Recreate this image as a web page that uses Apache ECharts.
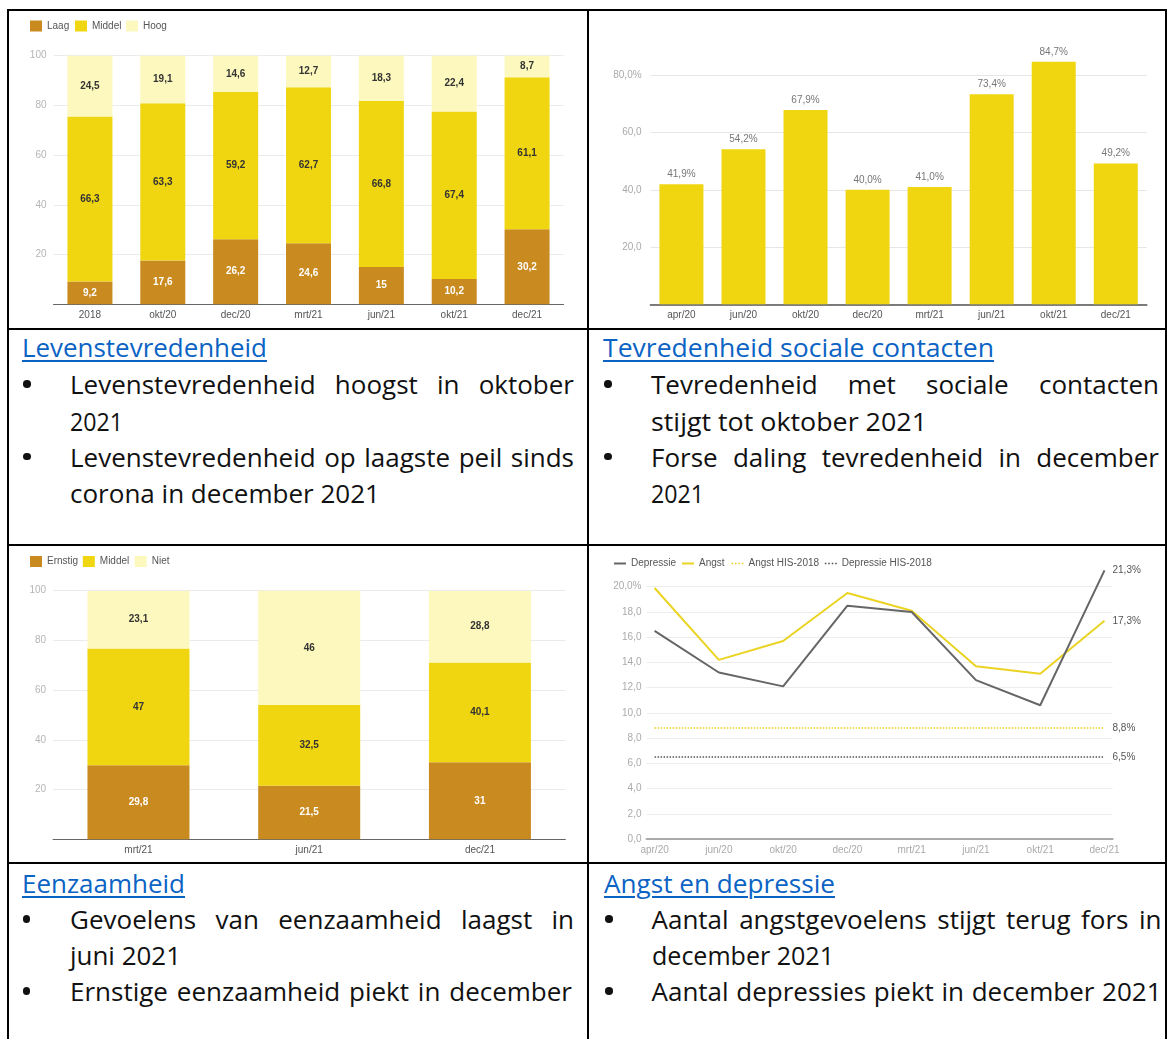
<!DOCTYPE html>
<html><head><meta charset="utf-8">
<script src="https://cdn.jsdelivr.net/npm/echarts@6/dist/echarts.min.js"></script>
<style>
html,body{margin:0;padding:0;background:#fff;}
body{width:1168px;height:1039px;position:relative;overflow:hidden;}
.ch{position:absolute;}
.ln{position:absolute;background:#000;}
.tx{position:absolute;white-space:nowrap;font-family:"Open Sans",sans-serif;font-size:26px;line-height:26px;color:#111;transform-origin:0 0;}
.hd{color:#0B63C4;text-decoration:underline;text-decoration-thickness:1.5px;text-underline-offset:3px;}
.bl{position:absolute;width:7.5px;height:7.5px;border-radius:50%;background:#111;}
</style></head><body>

<div class="ln" style="left:7px;top:9px;width:1160px;height:2px"></div>
<div class="ln" style="left:7px;top:328px;width:1160px;height:2px"></div>
<div class="ln" style="left:7px;top:544px;width:1160px;height:2px"></div>
<div class="ln" style="left:7px;top:862px;width:1160px;height:2px"></div>
<div class="ln" style="left:7px;top:9px;width:2px;height:1030px"></div>
<div class="ln" style="left:587px;top:9px;width:2px;height:1030px"></div>
<div class="ln" style="left:1165px;top:9px;width:2px;height:1030px"></div>

<div id="c1" class="ch" style="left:9px;top:11px;width:578px;height:317px"></div>
<div id="c2" class="ch" style="left:589px;top:11px;width:576px;height:317px"></div>
<div id="c3" class="ch" style="left:9px;top:546px;width:578px;height:316px"></div>
<div id="c4" class="ch" style="left:589px;top:546px;width:576px;height:316px"></div>

<div id="texts"></div>

<script>
// ---------- data ----------
const lifeCats   = ['2018','okt/20','dec/20','mrt/21','jun/21','okt/21','dec/21'];
const lifeLaag   = [9.2, 17.6, 26.2, 24.6, 15, 10.2, 30.2];
const lifeMiddel = [66.3, 63.3, 59.2, 62.7, 66.8, 67.4, 61.1];
const lifeHoog   = [24.5, 19.1, 14.6, 12.7, 18.3, 22.4, 8.7];
const lifeTicks  = ['', '20', '40', '60', '80', '100'];

const socialCats  = ['apr/20','jun/20','okt/20','dec/20','mrt/21','jun/21','okt/21','dec/21'];
const socialVals  = [41.9, 54.2, 67.9, 40.0, 41.0, 73.4, 84.7, 49.2];
const socialTicks = ['', '20,0', '40,0', '60,0', '80,0%', ''];

const lonelyCats    = ['mrt/21','jun/21','dec/21'];
const lonelyErnstig = [29.8, 21.5, 31];
const lonelyMiddel  = [47, 32.5, 40.1];
const lonelyNiet    = [23.1, 46, 28.8];
const lonelyTicks   = ['', '20', '40', '60', '80', '100'];

const mentalCats   = ['apr/20','jun/20','okt/20','dec/20','mrt/21','jun/21','okt/21','dec/21'];
const depressie    = [16.5, 13.2, 12.1, 18.5, 18.0, 12.6, 10.6, 21.3];
const angst        = [19.9, 14.2, 15.7, 19.5, 18.1, 13.7, 13.1, 17.3];
const angstHIS     = [8.8, 8.8, 8.8, 8.8, 8.8, 8.8, 8.8, 8.8];
const depressieHIS = [6.5, 6.5, 6.5, 6.5, 6.5, 6.5, 6.5, 6.5];
const mentalTicks  = ['0,0','2,0','4,0','6,0','8,0','10,0','12,0','14,0','16,0','18,0','20,0%',''];

// ---------- text ----------
const headings = ['Levenstevredenheid', 'Tevredenheid sociale contacten', 'Eenzaamheid', 'Angst en depressie'];
const bulletLines = [
  ['Levenstevredenheid hoogst in oktober', '2021', 'Levenstevredenheid op laagste peil sinds', 'corona in december 2021'],
  ['Tevredenheid met sociale contacten', 'stijgt tot oktober 2021', 'Forse daling tevredenheid in december', '2021'],
  ['Gevoelens van eenzaamheid laagst in', 'juni 2021', 'Ernstige eenzaamheid piekt in december'],
  ['Aantal angstgevoelens stijgt terug fors in', 'december 2021', 'Aantal depressies piekt in december 2021']
];

// ---------- styling ----------
const FONT = '"Liberation Sans", Arial, sans-serif';
const C_LOW = '#C98A20', C_MID = '#F0D611', C_HIGH = '#FDF9BE';
const ICON_SOLID = 'path://M0,0h12v2h-12z';
const ICON_DOTS  = 'path://M0,0h1.6v1.6h-1.6zM3.4,0h1.6v1.6h-1.6zM6.8,0h1.6v1.6h-1.6zM10.2,0h1.6v1.6h-1.6z';
const fmtNum = v => String(v).replace('.', ',');
const fmtPct = v => Number(v).toFixed(1).replace('.', ',') + '%';

function legendAt(name, left, top, icon) {
  const l = { data: [name], left, top, itemWidth: 12, itemHeight: 11, itemGap: 0, padding: 0,
    selectedMode: false, textStyle: { fontSize: 10, color: '#555', fontFamily: FONT } };
  if (icon) l.icon = icon;
  return l;
}
function stackBar(name, data, color, labelColor, width) {
  return { type: 'bar', name, stack: 's', data, barWidth: width, itemStyle: { color },
    label: { show: true, position: 'inside', formatter: p => fmtNum(p.value), color: labelColor,
      fontSize: 10, fontWeight: 'bold', fontFamily: FONT } };
}

// ---------- chart 1 ----------
echarts.init(document.getElementById('c1')).setOption({
  animation: false, textStyle: { fontFamily: FONT },
  legend: [legendAt('Laag', 21, 9.5, 'rect'), legendAt('Middel', 66, 9.5, 'rect'), legendAt('Hoog', 117, 9.5, 'rect')],
  grid: { left: 44.5, top: 44.7, width: 510, height: 248.6 },
  xAxis: { type: 'category', data: lifeCats, axisTick: { show: false },
    axisLine: { lineStyle: { color: '#666', width: 1.2 } },
    axisLabel: { color: '#555', fontSize: 10, margin: 6 } },
  yAxis: { type: 'value', min: 0, max: 100, interval: 20, axisLine: { show: false }, axisTick: { show: false },
    axisLabel: { color: '#b5b5b5', fontSize: 10, margin: 7, formatter: v => lifeTicks[Math.round(v / 20)] },
    splitLine: { lineStyle: { color: '#ebebeb' } } },
  series: [stackBar('Laag', lifeLaag, C_LOW, '#fff', 45),
           stackBar('Middel', lifeMiddel, C_MID, '#333', 45),
           stackBar('Hoog', lifeHoog, C_HIGH, '#333', 45)]
});

// ---------- chart 2 ----------
echarts.init(document.getElementById('c2')).setOption({
  animation: false, textStyle: { fontFamily: FONT },
  grid: { left: 61.4, top: 7.05, width: 496.4, height: 286.25 },
  xAxis: { type: 'category', data: socialCats, axisTick: { show: false },
    axisLine: { lineStyle: { color: '#555', width: 1.5 } },
    axisLabel: { color: '#555', fontSize: 10, margin: 6 } },
  yAxis: { type: 'value', min: 0, max: 100, interval: 20, axisLine: { show: false }, axisTick: { show: false },
    axisLabel: { color: '#aaa', fontSize: 10, margin: 8.8, showMaxLabel: false,
      formatter: v => socialTicks[Math.round(v / 20)] },
    splitLine: { showMaxLine: false, lineStyle: { color: '#e6e6e6' } } },
  series: [{ type: 'bar', name: 'Tevredenheid', data: socialVals, barWidth: 44, itemStyle: { color: C_MID },
    label: { show: true, position: 'top', distance: 5, formatter: p => fmtPct(p.value),
      color: '#777', fontSize: 10, fontFamily: FONT } }]
});

// ---------- chart 3 ----------
echarts.init(document.getElementById('c3')).setOption({
  animation: false, textStyle: { fontFamily: FONT },
  legend: [legendAt('Ernstig', 21, 10, 'rect'), legendAt('Middel', 73.8, 10, 'rect'), legendAt('Niet', 125.7, 10, 'rect')],
  grid: { left: 44.1, top: 44.7, width: 512.2, height: 248.6 },
  xAxis: { type: 'category', data: lonelyCats, axisTick: { show: false },
    axisLine: { lineStyle: { color: '#666', width: 1.2 } },
    axisLabel: { color: '#555', fontSize: 10, margin: 6 } },
  yAxis: { type: 'value', min: 0, max: 100, interval: 20, axisLine: { show: false }, axisTick: { show: false },
    axisLabel: { color: '#b5b5b5', fontSize: 10, margin: 7, formatter: v => lonelyTicks[Math.round(v / 20)] },
    splitLine: { lineStyle: { color: '#ebebeb' } } },
  series: [stackBar('Ernstig', lonelyErnstig, C_LOW, '#fff', 102),
           stackBar('Middel', lonelyMiddel, C_MID, '#333', 102),
           stackBar('Niet', lonelyNiet, C_HIGH, '#333', 102)]
});

// ---------- chart 4 ----------
const pts = arr => arr.map((v, i) => [i, v]);
function lineSeries(name, data, color, width, type, z) {
  return { type: 'line', name, data: pts(data), symbol: 'none', z,
    lineStyle: { color, width, type }, itemStyle: { color },
    endLabel: { show: true, distance: 8, formatter: p => fmtPct(p.value[1]), color: '#555', fontSize: 10, fontFamily: FONT } };
}
echarts.init(document.getElementById('c4')).setOption({
  animation: false, textStyle: { fontFamily: FONT },
  legend: [legendAt('Depressie', 25, 12.5, ICON_SOLID), legendAt('Angst', 93, 12.5, ICON_SOLID),
           legendAt('Angst HIS-2018', 142.5, 12.5, ICON_DOTS), legendAt('Depressie HIS-2018', 235.8, 12.5, ICON_DOTS)],
  grid: { left: 57.5, top: 15.5, width: 466.1, height: 277.5 },
  xAxis: { type: 'value', min: -0.126, max: 7.126, splitLine: { show: false }, axisTick: { show: false },
    axisLine: { onZero: false, lineStyle: { color: '#aaa', width: 2 } },
    axisLabel: { customValues: mentalCats.map((c, i) => i), color: '#aaa', fontSize: 10, margin: 6,
      formatter: v => mentalCats[Math.round(v)] } },
  yAxis: { type: 'value', min: 0, max: 22, interval: 2, axisLine: { show: false, onZero: false }, axisTick: { show: false },
    axisLabel: { color: '#aaa', fontSize: 10, margin: 5, showMaxLabel: false,
      formatter: v => mentalTicks[Math.round(v / 2)] },
    splitLine: { showMaxLine: false, lineStyle: { color: '#ececec' } } },
  series: [lineSeries('Angst HIS-2018', angstHIS, '#E9D224', 1.5, 'dotted', 2),
           lineSeries('Depressie HIS-2018', depressieHIS, '#555', 1.5, 'dotted', 2),
           lineSeries('Angst', angst, '#EBD323', 2, 'solid', 3),
           lineSeries('Depressie', depressie, '#666', 2, 'solid', 4)]
});

// ---------- text layout ----------
const cols = [
  { hx: 22,  tx: 70,  bx: 27,  hb: 357.3, lb: [394, 430.7, 466.7, 502.7], bul: [0, 2],
    w: [504, 53, 504, 310], m: ['j','n','j','n'], hw: 245 },
  { hx: 603, tx: 651, bx: 608, hb: 357.3, lb: [394, 430.7, 466.7, 502.7], bul: [0, 2],
    w: [508, 276, 508, 53], m: ['j','n','j','n'], hw: 391 },
  { hx: 22,  tx: 70,  bx: 26.5, hb: 892.7, lb: [929, 965, 1001], bul: [0, 2],
    w: [504, 111, 502], m: ['j','n','j'], hw: 163 },
  { hx: 603.6, tx: 651.5, bx: 609, hb: 892.7, lb: [929, 965, 1001], bul: [0, 2],
    w: [510, 182, 510], m: ['j','n','j'], hw: 231 }
];
const host = document.getElementById('texts');
function placeLine(text, x, baseline, width, mode, cls) {
  const el = document.createElement('div');
  el.className = 'tx' + (cls ? ' ' + cls : '');
  const sp = document.createElement('span');
  sp.textContent = text;
  el.appendChild(sp);
  const mk = document.createElement('span');
  mk.style.cssText = 'display:inline-block;width:0;height:0;vertical-align:baseline';
  el.appendChild(mk);
  el.style.left = x + 'px';
  el.style.top = '0px';
  host.appendChild(el);
  const base = mk.offsetTop;
  el.style.top = (baseline - base) + 'px';
  const nat = sp.getBoundingClientRect().width;
  const spaces = (text.match(/ /g) || []).length;
  if (mode === 'j' && spaces > 0) {
    el.style.wordSpacing = ((width - nat) / spaces) + 'px';
  } else {
    el.style.transform = 'scaleX(' + (width / nat) + ')';
  }
}
cols.forEach((c, ci) => {
  placeLine(headings[ci], c.hx, c.hb, c.hw, 'n', 'hd');
  bulletLines[ci].forEach((t, li) => placeLine(t, c.tx, c.lb[li], c.w[li], c.m[li]));
  c.bul.forEach(li => {
    const b = document.createElement('div');
    b.className = 'bl';
    b.style.left = (c.bx - 3.75) + 'px';
    b.style.top = (c.lb[li] - 10 - 3.75) + 'px';
    host.appendChild(b);
  });
});
</script>
</body></html>
